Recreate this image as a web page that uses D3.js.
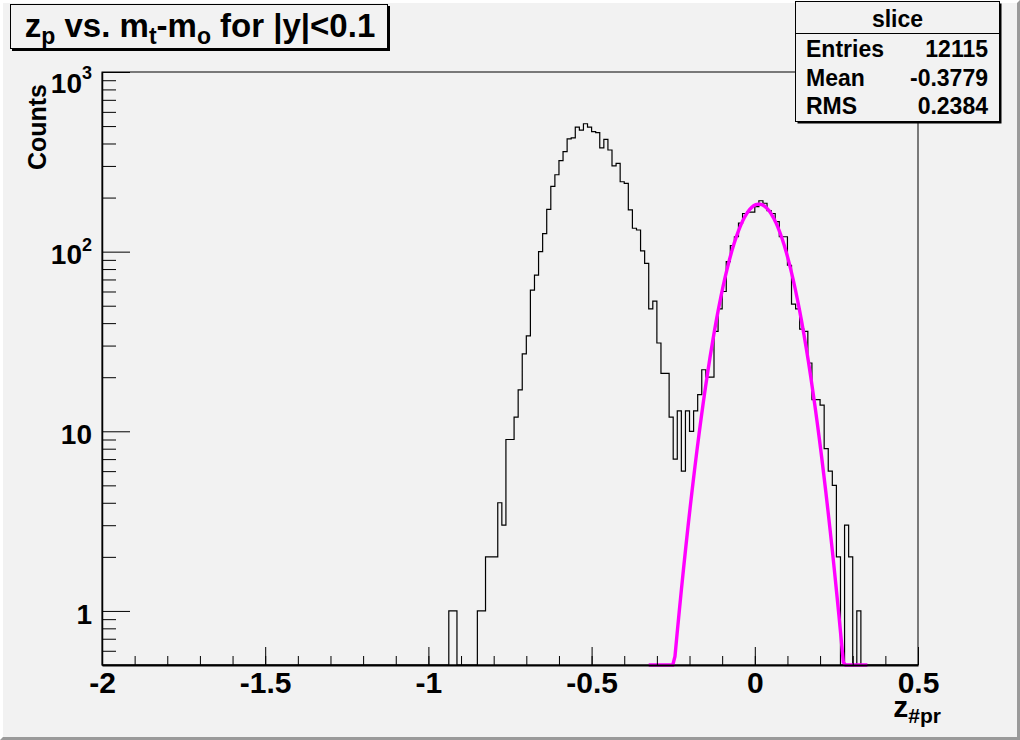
<!DOCTYPE html>
<html>
<head>
<meta charset="utf-8">
<script src="https://cdn.jsdelivr.net/npm/d3@7"></script>
<style>
  body { margin: 0; background: #f2f2f2; }
  svg { display: block; font-family: "Liberation Sans", Arial, Helvetica, sans-serif; font-weight: bold; }
</style>
</head>
<body>
<svg id="chart" width="1020" height="740"></svg>
<script>
// histogram "slice", 200 bins on [-2, 0.5]; only the bins that are filled are listed
const xRange = [-2, 0.5]
const yRange = [0.5, 1000]
const binWidth = 0.0125
const firstBinLow = -0.9375
const counts = [
  1, 1, 0, 0, 0, 0, 0, 1, 1, 2, 2, 2, 4, 3, 9, 9,
  12, 17, 27, 34, 61, 74, 100, 126, 172, 231, 268, 321, 360, 424, 430, 493,
  475, 515, 493, 466, 460, 378, 422, 368, 300, 310, 245, 240, 171, 135, 132, 101,
  86, 48, 53, 31, 21, 21, 12, 7, 13, 6, 13, 10, 13, 16, 22, 20,
  20, 36, 48, 60, 88, 108, 121, 144, 163, 166, 166, 178, 192, 186, 169, 163,
  147, 121, 121, 84, 51, 48, 37, 36, 24, 15, 15, 14, 8, 6, 5, 2,
  0, 3, 2, 0, 1
]

// gaus fit drawn on top
const fitConstant = 184
const fitMean = 0.0125
const fitSigma = 0.0755
const fitRange = [-0.325, 0.345]
const fitPoints = 100

const xMajorTicks = [-2, -1.5, -1, -0.5, 0, 0.5]
const xMinorTicks = d3.range(-20, 6).map(i => i / 10)
const yMajorTicks = [1, 10, 100, 1000]
const yMinorTicks = [0.6, 0.7, 0.8, 0.9, 2, 3, 4, 5, 6, 7, 8, 9, 20, 30, 40, 50, 60, 70, 80, 90, 200, 300, 400, 500, 600, 700, 800, 900]

const statsTitle = "slice"
const statsNames = ["Entries", "Mean", "RMS"]
const statsValues = ["12115", "-0.3779", "0.2384"]

const W = 1020, H = 740
const bg = "#f2f2f2"
const margin = { top: 72, right: 102, bottom: 75, left: 102 }
const frameW = W - margin.left - margin.right
const frameH = H - margin.top - margin.bottom

const svg = d3.select("#chart")

// canvas with its bevel
svg.append("rect").attr("width", W).attr("height", H).attr("fill", bg)
svg.append("path").attr("d", `M0,${H} L0,0 L${W},0 L${W - 3},3 L3,3 L3,${H - 3} Z`).attr("fill", "#ffffff")
svg.append("path").attr("d", `M0,${H} L${W},${H} L${W},0 L${W - 3},3 L${W - 3},${H - 3} L3,${H - 3} Z`).attr("fill", "#9a9a9a")

const x = d3.scaleLinear().domain(xRange).range([margin.left, margin.left + frameW])
const y = d3.scaleLog().domain(yRange).range([margin.top + frameH, margin.top])

// frame
svg.append("rect")
  .attr("x", margin.left).attr("y", margin.top)
  .attr("width", frameW).attr("height", frameH)
  .attr("fill", "none").attr("stroke", "#000").attr("stroke-width", 1)

// histogram outline, empty bins sit on the bottom of the frame
const bins = d3.range(200).map(i => {
  const lo = xRange[0] + i * binWidth
  const j = Math.round((lo - firstBinLow) / binWidth)
  const c = (j >= 0 && j < counts.length) ? counts[j] : 0
  return { lo: lo, c: c }
})
const steps = bins.concat([{ lo: xRange[1], c: 0 }])
const histLine = d3.line()
  .x(d => x(d.lo))
  .y(d => y(Math.max(d.c, yRange[0])))
  .curve(d3.curveStepAfter)
svg.append("path")
  .datum(steps)
  .attr("d", histLine)
  .attr("fill", "none")
  .attr("stroke", "#000")
  .attr("stroke-width", 1.2)

// fit function
const gaus = v => fitConstant * Math.exp(-0.5 * Math.pow((v - fitMean) / fitSigma, 2))
const fitX = d3.range(fitPoints + 1).map(i => fitRange[0] + i * (fitRange[1] - fitRange[0]) / fitPoints)
svg.append("path")
  .datum(fitX)
  .attr("d", d3.line().x(d => x(d)).y(d => y(Math.max(gaus(d), yRange[0]))))
  .attr("fill", "none")
  .attr("stroke", "#ff00ff")
  .attr("stroke-width", 3.4)

// x axis
const xAxisY = margin.top + frameH
svg.append("g")
  .attr("transform", `translate(0,${xAxisY})`)
  .call(d3.axisBottom(x).tickValues(xMinorTicks).tickSizeInner(-9).tickSizeOuter(0).tickFormat(""))
  .call(g => g.select(".domain").remove())
svg.append("g")
  .attr("class", "xaxis")
  .attr("transform", `translate(0,${xAxisY})`)
  .call(d3.axisBottom(x).tickValues(xMajorTicks).tickSizeInner(-18).tickSizeOuter(0).tickPadding(7)
    .tickFormat(d => d === 0 ? "0" : String(d)))
  .call(g => g.select(".domain").attr("stroke-width", 2))
  .call(g => g.selectAll("text").attr("font-size", 30).attr("font-family", null).attr("fill", "#000"))
svg.selectAll("g.tick line").attr("stroke", "#000")

// y axis
svg.append("g")
  .attr("transform", `translate(${margin.left},0)`)
  .call(d3.axisLeft(y).tickValues(yMinorTicks).tickSizeInner(-14).tickSizeOuter(0).tickFormat(""))
  .call(g => g.select(".domain").remove())
svg.append("g")
  .attr("transform", `translate(${margin.left},0)`)
  .call(d3.axisLeft(y).tickValues(yMajorTicks).tickSizeInner(-28).tickSizeOuter(0).tickPadding(10).tickFormat(""))
  .call(g => g.select(".domain").attr("stroke-width", 1.5))
  .call(g => g.selectAll(".tick").each(function (d) {
    const p = Math.round(Math.log10(d))
    const t = d3.select(this).select("text")
      .attr("font-size", 28).attr("font-family", null).attr("fill", "#000")
      .attr("x", -10).attr("y", p === 3 ? 10 : 2).attr("dy", "0.36em")
    if (p >= 2) {
      t.append("tspan").text("10")
      t.append("tspan").attr("font-size", 18).attr("dy", "-0.75em").text(p)
    } else {
      t.append("tspan").text(String(d))
    }
  }))
svg.selectAll("g.tick line").attr("stroke", "#000")

// axis titles
svg.append("text")
  .attr("transform", `translate(46,84) rotate(-90)`)
  .attr("text-anchor", "end")
  .attr("font-size", 25)
  .text("Counts")

const xt = svg.append("text")
  .attr("x", 941).attr("y", 717)
  .attr("text-anchor", "end")
  .attr("font-size", 30)
xt.append("tspan").text("z")
xt.append("tspan").attr("font-size", 21).attr("dy", 6).text("#pr")

// title box
svg.append("rect").attr("x", 12).attr("y", 6).attr("width", 378).attr("height", 45).attr("fill", "#000")
svg.append("rect").attr("x", 10.5).attr("y", 4.5).attr("width", 377).attr("height", 44)
  .attr("fill", bg).attr("stroke", "#000").attr("stroke-width", 1)
const title = svg.append("text")
  .attr("x", 200).attr("y", 37)
  .attr("text-anchor", "middle")
  .attr("font-size", 33)
const sub = (txt) => {
  title.append("tspan").attr("font-size", 23).attr("dy", 7).text(txt)
}
title.append("tspan").text("z")
sub("p")
title.append("tspan").attr("dy", -7).text(" vs. m")
sub("t")
title.append("tspan").attr("dy", -7).text("-m")
sub("o")
title.append("tspan").attr("dy", -7).text(" for |y|<0.1")

// stats box
const sx = 795.5, sy = 1.5, sw = 204, sh = 120
svg.append("rect").attr("x", sx + 2).attr("y", sy + 2).attr("width", sw).attr("height", sh).attr("fill", "#000")
svg.append("rect").attr("x", sx).attr("y", sy).attr("width", sw).attr("height", sh)
  .attr("fill", bg).attr("stroke", "#000").attr("stroke-width", 1)
svg.append("line").attr("x1", sx).attr("x2", sx + sw).attr("y1", 33.5).attr("y2", 33.5).attr("stroke", "#000")
svg.append("text").attr("x", sx + sw / 2).attr("y", 27).attr("text-anchor", "middle").attr("font-size", 23).text(statsTitle)
statsNames.forEach((n, i) => {
  svg.append("text").attr("x", 806).attr("y", 57 + i * 28.5).attr("font-size", 23).text(n)
  svg.append("text").attr("x", 988).attr("y", 57 + i * 28.5).attr("text-anchor", "end").attr("font-size", 23).text(statsValues[i])
})
</script>
</body>
</html>
